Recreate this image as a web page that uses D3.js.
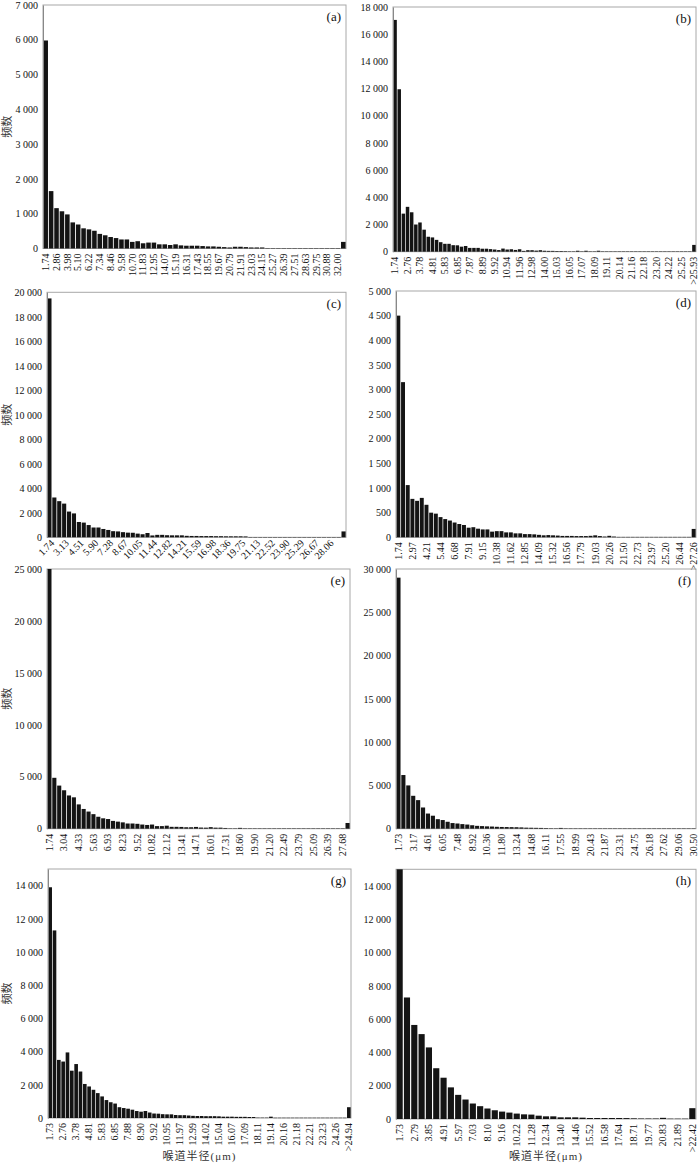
<!DOCTYPE html>
<html><head><meta charset="utf-8">
<script src="https://cdn.jsdelivr.net/npm/d3@7/dist/d3.min.js"></script>
<style>body{margin:0;background:#fff}svg{display:block}</style>
</head><body>
<script>
// ---------- data ----------
const ticksA = ["1.74","2.86","3.98","5.10","6.22","7.34","8.46","9.58","10.70","11.83","12.95","14.07","15.19","16.31","17.43","18.55","19.67","20.79","21.91","23.03","24.15","25.27","26.39","27.51","28.63","29.75","30.88","32.00"];
const valuesA = [5980,1650,1160,1070,980,750,690,580,550,510,
 420,380,330,300,260,260,190,210,150,170,
 170,120,120,100,120,90,80,80,80,70,
 60,60,50,40,30,50,50,40,30,30,
 30,8,8,8,8,8,8,8,8,8,
 8,8,8,8,8,190];
const yTicksA = [0,1000,2000,3000,4000,5000,6000,7000];

const ticksB = ["1.74","2.76","3.78","4.81","5.83","6.85","7.87","8.89","9.92","10.94","11.96","12.98","14.00","15.03","16.05","17.07","18.09","19.11","20.14","21.16","22.18","23.20","24.22","25.25",">25.93"];
const valuesB = [17050,11950,2800,3300,2900,2000,2150,1620,1100,1050,
 870,700,580,580,480,470,370,420,280,280,
 280,220,220,190,160,120,230,160,180,130,
 180,60,110,110,80,110,70,60,60,50,
 50,40,30,30,70,20,70,20,20,70,
 15,15,15,15,15,15,15,15,15,15,
 15,15,15,15,15,15,15,15,15,15,
 15,15,500];
const yTicksB = [0,2000,4000,6000,8000,10000,12000,14000,16000,18000];

const ticksC = ["1.74","3.13","4.51","5.90","7.28","8.67","10.05","11.44","12.82","14.21","15.59","16.98","18.36","19.75","21.13","22.52","23.90","25.29","26.67","28.06"];
const valuesC = [19500,3250,2950,2750,2100,1950,1250,1200,1000,800,
 800,680,600,500,480,420,380,370,300,250,
 350,150,200,200,170,160,160,160,120,110,
 110,100,100,100,90,90,80,80,80,80,
 70,15,15,15,15,15,15,15,15,15,
 15,15,15,15,15,15,15,15,15,15,
 480];
const yTicksC = [0,2000,4000,6000,8000,10000,12000,14000,16000,18000,20000];

const ticksD = ["1.74","2.97","4.21","5.44","6.68","7.91","9.15","10.38","11.62","12.85","14.09","15.32","16.56","17.79","19.03","20.26","21.50","22.73","23.97","25.20","26.44",">27.26"];
const valuesD = [4500,3150,1060,780,740,800,660,500,480,410,
 370,340,300,270,250,195,205,175,160,160,
 115,125,125,100,100,80,80,65,65,60,
 50,40,45,40,35,28,28,28,25,25,
 25,30,40,25,15,30,15,8,8,8,
 8,8,8,8,8,8,8,8,8,8,
 8,8,8,170];
const yTicksD = [0,500,1000,1500,2000,2500,3000,3500,4000,4500,5000];

const ticksE = ["1.74","3.04","4.33","5.63","6.93","8.23","9.52","10.82","12.12","13.41","14.71","16.01","17.31","18.60","19.90","21.20","22.49","23.79","25.09","26.39","27.68"];
const valuesE = [25000,4900,4150,3700,3200,3020,2340,1900,1650,1400,
 1150,1000,930,750,680,610,500,500,470,400,
 360,400,250,250,290,180,180,170,140,140,
 170,110,100,150,100,100,70,30,30,80,
 10,10,10,10,10,10,10,10,10,10,
 10,10,10,10,10,10,10,10,10,10,
 10,550];
const yTicksE = [0,5000,10000,15000,20000,25000];

const ticksF = ["1.73","3.17","4.61","6.05","7.48","8.92","10.36","11.80","13.24","14.68","16.11","17.55","18.99","20.43","21.87","23.31","24.75","26.18","27.62","29.06","30.50"];
const valuesF = [29000,6200,5000,3800,3300,2450,1750,1500,1100,1000,
 800,650,600,530,480,400,330,300,270,250,
 220,200,190,180,170,150,120,110,100,90,
 70,50,30,90,20,10,10,10,10,10,
 10,10,10,10,10,10,10,10,10,10,
 10,10,10,10,10,10,10,10,10,10,
 10];
const yTicksF = [0,5000,10000,15000,20000,25000,30000];

const ticksG = ["1.73","2.76","3.78","4.81","5.83","6.85","7.88","8.90","9.92","10.95","11.97","12.99","14.02","15.04","16.07","17.09","18.11","19.14","20.16","21.18","22.21","23.23","24.26",">24.94"];
const valuesG = [13900,11300,3500,3400,3950,2850,3250,2800,2050,1900,
 1700,1500,1300,1080,950,870,650,600,560,500,
 420,380,420,330,270,260,230,220,220,180,
 170,170,150,130,120,120,110,110,110,100,
 80,80,80,70,70,70,60,60,20,20,
 20,80,15,15,15,15,15,15,15,15,
 15,15,15,15,15,15,15,15,15,650];
const yTicksG = [0,2000,4000,6000,8000,10000,12000,14000];

const ticksH = ["1.73","2.79","3.85","4.91","5.97","7.03","8.10","9.16","10.22","11.28","12.34","13.40","14.46","15.52","16.58","17.64","18.71","19.77","20.83","21.89",">22.42"];
const valuesH = [15000,7300,5650,5100,4300,3050,2480,1900,1450,1170,
 930,770,630,525,445,385,325,280,265,200,
 160,160,100,100,100,80,60,60,60,60,
 60,55,40,30,30,30,70,20,20,20,
 650];
const yTicksH = [0,2000,4000,6000,8000,10000,12000,14000];

const yTitle = "频数";
const xTitle = "喉道半径(μm)";

// ---------- layout ----------
const panels = [
 {tag:"(a)", values:valuesA, ticks:ticksA, yTicks:yTicksA, step:2, yMax:7000,  x0:43,  x1:346, y0:248.5, y1:5,    rot:-90, ylab:true},
 {tag:"(b)", values:valuesB, ticks:ticksB, yTicks:yTicksB, step:3, yMax:18000, x0:393, x1:696, y0:251.7, y1:7,    rot:-90},
 {tag:"(c)", values:valuesC, ticks:ticksC, yTicks:yTicksC, step:3, yMax:20000, x0:47,  x1:346, y0:537.3, y1:292.3,rot:-45, ylab:true},
 {tag:"(d)", values:valuesD, ticks:ticksD, yTicks:yTicksD, step:3, yMax:5000,  x0:396, x1:696, y0:537.3, y1:291,  rot:-90},
 {tag:"(e)", values:valuesE, ticks:ticksE, yTicks:yTicksE, step:3, yMax:25000, x0:47,  x1:350, y0:828.7, y1:569,  rot:-90, ylab:true},
 {tag:"(f)", values:valuesF, ticks:ticksF, yTicks:yTicksF, step:3, yMax:30000, x0:396, x1:696, y0:828.7, y1:569,  rot:-90},
 {tag:"(g)", values:valuesG, ticks:ticksG, yTicks:yTicksG, step:3, yMax:15000, x0:48,  x1:351, y0:1118,  y1:869,  rot:-90, ylab:true, xt:true},
 {tag:"(h)", values:valuesH, ticks:ticksH, yTicks:yTicksH, step:2, yMax:15000, x0:396, x1:696, y0:1119,  y1:869.3,rot:-90, xt:true}
];

const svg = d3.select("body").append("svg").attr("width",700).attr("height",1164);
const serif = "'Liberation Serif','Times New Roman',serif";
const cjk = "'Liberation Serif','Noto Sans CJK SC',sans-serif";
const fmt = v => d3.format(",")(v).replace(/,/g," ");

panels.forEach(p => {
  const g = svg.append("g");
  const x = d3.scaleBand().domain(d3.range(p.values.length)).range([p.x0,p.x1]).paddingInner(0.16).paddingOuter(0.08);
  const y = d3.scaleLinear().domain([0,p.yMax]).range([p.y0,p.y1]).clamp(true);

  // frame
  g.append("rect").attr("x",p.x0).attr("y",p.y1).attr("width",p.x1-p.x0).attr("height",p.y0-p.y1)
    .attr("fill","none").attr("stroke","#a8a8a8").attr("stroke-width",1);

  // bars
  g.selectAll("rect.bar").data(p.values).join("rect").attr("class","bar")
    .attr("x",(d,i)=>x(i)).attr("width",x.bandwidth())
    .attr("y",d=>y(d)).attr("height",d=>Math.max(0.4,p.y0-y(d)))
    .attr("fill","#141414");

  // y axis
  const ya = d3.axisLeft(y).tickValues(p.yTicks).tickSize(0).tickPadding(5).tickFormat(fmt);
  const yg = g.append("g").attr("transform",`translate(${p.x0},0)`).call(ya);
  yg.select(".domain").attr("stroke","#888");
  yg.selectAll("text").attr("font-family",serif).attr("font-size",10).attr("fill","#111");

  // x tick labels
  const xa = d3.axisBottom(x).tickValues(p.ticks.map((t,i)=>i*p.step)).tickSize(0)
    .tickFormat(i => p.ticks[i/p.step]);
  const xg = g.append("g").attr("transform",`translate(0,${p.y0})`).call(xa);
  xg.select(".domain").remove();
  const tx = xg.selectAll("text").attr("font-family",serif).attr("font-size",10).attr("fill","#111")
    .attr("text-anchor","end");
  if (p.rot === -90) {
    tx.attr("transform","translate(0,5) rotate(-90)").attr("x",0).attr("y",0).attr("dy","0.33em");
  } else {
    tx.attr("transform","translate(3,4) rotate(-45)").attr("x",0).attr("y",0).attr("dy","0.35em");
  }

  // panel tag
  g.append("text").attr("x",p.x1-5).attr("y",p.y1+16).attr("text-anchor","end")
    .attr("font-family",serif).attr("font-size",13).attr("fill","#111").text(p.tag);

  if (p.ylab) {
    g.append("text").attr("transform",`translate(11,${(p.y0+p.y1)/2}) rotate(-90)`)
      .attr("text-anchor","middle").attr("font-family",cjk).attr("font-size",11).attr("fill","#333")
      .text(yTitle);
  }
  if (p.xt) {
    g.append("text").attr("x",(p.x0+p.x1)/2).attr("y",1160).attr("text-anchor","middle")
      .attr("font-family",cjk).attr("font-size",11).attr("letter-spacing",1).attr("fill","#333").text(xTitle);
  }
});
</script>
</body></html>
